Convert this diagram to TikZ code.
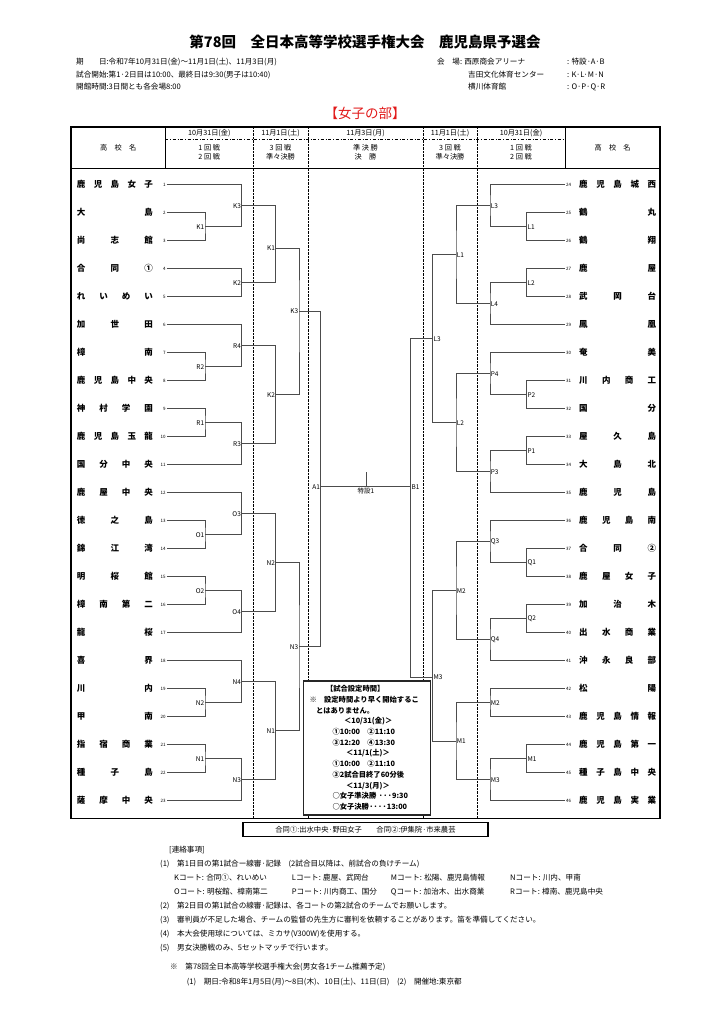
\documentclass[tikz,border=0pt]{standalone}
\usepackage{fontspec}
\setmainfont{Noto Sans CJK JP}
\usetikzlibrary{positioning}
\definecolor{partred}{RGB}{225,25,25}

\begin{document}
\begin{tikzpicture}[x=1pt, y=-1pt,
  ttl/.style={font=\bfseries\fontsize{14.5}{16}\selectfont, inner sep=0pt},
  info/.style={font=\fontsize{7.6}{8}\selectfont, anchor=west, inner sep=0pt},
  hdr/.style={font=\fontsize{7.2}{9.3}\selectfont, inner sep=0pt, align=center},
  tname/.style={font=\bfseries\fontsize{8.5}{9}\selectfont, anchor=west, inner sep=0pt},
  tnum/.style={font=\fontsize{4.5}{5}\selectfont, inner sep=0pt},
  lab/.style={font=\fontsize{6.5}{7}\selectfont, inner sep=0.6pt},
  brk/.style={draw=black!70, line width=0.85pt},
  note/.style={font=\fontsize{7.6}{8}\selectfont, anchor=west, inner sep=0pt}]

\useasboundingbox (0,0) rectangle (724,1024);

% title and info
\node (title) [ttl] at (365,42) {第78回　全日本高等学校選手権大会　鹿児島県予選会};
\node (inf1) [info] at (76,62) {期　　日:令和7年10月31日(金)～11月1日(土)、11月3日(月)};
\node (inf2) [info] at (76,75) {試合開始:第1·2日目は10:00、最終日は9:30(男子は10:40)};
\node (inf3) [info] at (76,87) {開館時間:3日間とも各会場8:00};
\node (ven1) [info] at (437,62) {会　場: 西原商会アリーナ};
\node (ven2) [info] at (468,75) {吉田文化体育センター};
\node (ven3) [info] at (468,87) {横川体育館};
\node (crt1) [info] at (567,62) {: 特設·A·B};
\node (crt2) [info] at (567,75) {: K·L·M·N};
\node (crt3) [info] at (567,87) {: O·P·Q·R};
\node (part) [font=\fontsize{13.5}{14}\selectfont, text=partred] at (365,113) {【女子の部】};

% table
\draw[line width=1.4pt] (71,127) rectangle (660,818.3);
\draw[thin] (71,168.3) -- (660,168.3);
\draw[thin] (165.3,127) -- (165.3,168.3);
\draw[thin] (565.3,127) -- (565.3,168.3);
\draw[thin, dash dot] (165.3,139.3) -- (565.3,139.3);
\foreach \xx in {253.3,307.7,423.3,476.7}
  \draw[thin, densely dotted] (\xx,127) -- (\xx,818.3);

\node (hn1) [hdr] at (118.2,147.5) {高　校　名};
\node (hn2) [hdr] at (612.6,147.5) {高　校　名};
\foreach \xx/\dt/\ra/\rb [count=\h] in {209.3/10月31日(金)/1 回 戦/2 回 戦,
    280.5/11月1日(土)/3 回 戦/準々決勝, 365.5/11月3日(月)/準 決 勝/決　勝,
    450/11月1日(土)/3 回 戦/準々決勝, 521/10月31日(金)/1 回 戦/2 回 戦}
{
  \node (hd\h) [hdr] at (\xx,133) {\dt};
  \node (hr\h) [hdr] at (\xx,152.4) {\ra\\\rb};
}

% teams
\foreach \nm [count=\i, evaluate=\i as \yy using 184.7+28*(\i-1)] in
  {鹿 児 島 女 子, 大 島, 尚 志 館, 合 同 ①, れ い め い, 加 世 田, 樟 南,
   鹿 児 島 中 央, 神 村 学 園, 鹿 児 島 玉 龍, 国 分 中 央, 鹿 屋 中 央, 徳 之 島,
   錦 江 湾, 明 桜 館, 樟 南 第 二, 龍 桜, 喜 界, 川 内, 甲 南, 指 宿 商 業,
   種 子 島, 薩 摩 中 央}
{
  \node (n\i) [tname] at (76.7,\yy) {\makebox[76pt][s]{\nm}};
  \node (k\i) [tnum, anchor=east] at (165.8,\yy) {\i};
  \coordinate (t\i) at (166.5,\yy);
}
\foreach \nm [count=\j from 24, evaluate=\j as \yy using 184.7+28*(\j-24)] in
  {鹿 児 島 城 西, 鶴 丸, 鶴 翔, 鹿 屋, 武 岡 台, 鳳 凰, 奄 美, 川 内 商 工, 国 分,
   屋 久 島, 大 島 北, 鹿 児 島, 鹿 児 島 南, 合 同 ②, 鹿 屋 女 子, 加 治 木,
   出 水 商 業, 沖 永 良 部, 松 陽, 鹿 児 島 情 報, 鹿 児 島 第 一, 種 子 島 中 央,
   鹿 児 島 実 業}
{
  \node (n\j) [tname] at (579,\yy) {\makebox[77pt][s]{\nm}};
  \node (k\j) [tnum, anchor=west] at (566,\yy) {\j};
  \coordinate (t\j) at (565,\yy);
}

% left bracket
\foreach \m/\xx/\yy/\pa/\pb/\lb in {
    a1/205/226.7/t2/t3/K1, a2/205/366.7/t7/t8/R2, a3/205/422.7/t9/t10/R1,
    a4/205/534.7/t13/t14/O1, a5/205/590.7/t15/t16/O2, a6/205/702.7/t19/t20/N2,
    a7/205/758.7/t21/t22/N1,
    b1/241.7/205.7/t1/a1/K3, b2/241.7/282.7/t4/t5/K2, b3/241.7/345.7/t6/a2/R4,
    b4/241.7/443.7/a3/t11/R3, b5/241.7/513.7/t12/a4/O3, b6/241.7/611.7/a5/t17/O4,
    b7/241.7/681.7/t18/a6/N4, b8/241.7/779.7/a7/t23/N3,
    c1/275.7/248/b1/b2/K1, c2/275.7/394.7/b3/b4/K2,
    c3/275.7/562.7/b5/b6/N2, c4/275.7/730.7/b7/b8/N1,
    d1/299/311/c1/c2/K3, d2/299/646.7/c3/c4/N3,
    e1/320.7/486.7/d1/d2/A1}
{
  \coordinate (\m) at (\xx,\yy);
  \draw[brk] (\pa) -| (\m) |- (\pb);
  \node (\m-l) [lab, anchor=east] at (\m) {\lb};
}

% right bracket
\foreach \m/\xx/\yy/\pa/\pb/\lb in {
    p1/526.7/226.7/t25/t26/L1, p2/526.7/282.7/t27/t28/L2, p3/526.7/394.7/t31/t32/P2,
    p4/526.7/450.7/t33/t34/P1, p5/526.7/562.7/t37/t38/Q1, p6/526.7/618.7/t39/t40/Q2,
    p7/526.7/758.7/t44/t45/M1,
    q1/490/205.7/t24/p1/L3, q2/490/303.7/p2/t29/L4, q3/490/373.7/t30/p3/P4,
    q4/490/471.7/p4/t35/P3, q5/490/541.7/t36/p5/Q3, q6/490/639.7/p6/t41/Q4,
    q7/490/702.7/t42/t43/M2, q8/490/779.7/p7/t46/M3,
    r1/456/254.7/q1/q2/L1, r2/456/422.7/q3/q4/L2,
    r3/456/590.7/q5/q6/M2, r4/456/741.2/q7/q8/M1,
    s1/432.7/338.7/r1/r2/L3, s2/432.7/677/r3/r4/M3,
    u1/410.7/486.7/s1/s2/B1}
{
  \coordinate (\m) at (\xx,\yy);
  \draw[brk] (\pa) -| (\m) |- (\pb);
  \node (\m-l) [lab, anchor=west] at (\m) {\lb};
}

% final
\coordinate (fin) at (366,486.7);
\coordinate (fint) at (366,472.3);
\draw[brk] (e1) -- (u1);
\draw[brk] (fin) -- (fint);
\node (fin-l) [lab, below=1pt of fin] {特設1};

% time box
\node (setbox) [draw=black!85, line width=1.6pt, fill=white, anchor=north west,
    text width=122pt, inner sep=2.5pt, minimum height=134pt, align=left,
    font=\bfseries\fontsize{7.3}{10.7}\selectfont] at (302.7,680)
  {\hspace*{20pt}【試合設定時間】\\
   \hspace*{3.5pt}※　設定時間より早く開始するこ\\
   \hspace*{10pt}とはありません。\\
   \hspace*{38pt}＜10/31(金)＞\\
   \hspace*{26.5pt}①10:00　②11:10\\
   \hspace*{26.5pt}③12:20　④13:30\\
   \hspace*{40pt}＜11/1(土)＞\\
   \hspace*{26.5pt}①10:00　②11:10\\
   \hspace*{26.5pt}③2試合目終了60分後\\
   \hspace*{40pt}＜11/3(月)＞\\
   \hspace*{26.5pt}○女子準決勝 ···9:30\\
   \hspace*{26.5pt}○女子決勝····13:00};

\node (godo) [draw, line width=1.2pt, minimum width=245pt, minimum height=14pt,
    font=\fontsize{7.3}{8}\selectfont] at (365.5,829.7)
  {合同①:出水中央·野田女子　　合同②:伊集院·市来農芸};

% notes
\node (nt0) [note] at (169,850) {[連絡事項]};
\node (nt1) [note] at (160,864) {(1)　第1日目の第1試合ー線審·記録　(2試合目以降は、前試合の負けチーム)};
\foreach \xx/\ca/\cb [count=\c] in {174/Kコート: 合同①、れいめい/Oコート: 明桜館、樟南第二,
    291.7/Lコート: 鹿屋、武岡台/Pコート: 川内商工、国分,
    390.7/Mコート: 松陽、鹿児島情報/Qコート: 加治木、出水商業,
    510/Nコート: 川内、甲南/Rコート: 樟南、鹿児島中央}
{
  \node (cta\c) [note] at (\xx,877.7) {\ca};
  \node (ctb\c) [note] at (\xx,892) {\cb};
}
\node (nt2) [note] at (160,906) {(2)　第2日目の第1試合の線審·記録は、各コートの第2試合のチームでお願いします。};
\node (nt3) [note] at (160,920) {(3)　審判員が不足した場合、チームの監督の先生方に審判を依頼することがあります。笛を準備してください。};
\node (nt4) [note] at (160,934) {(4)　本大会使用球については、ミカサ(V300W)を使用する。};
\node (nt5) [note] at (160,948) {(5)　男女決勝戦のみ、5セットマッチで行います。};
\node (nt6) [note] at (170,967) {※　第78回全日本高等学校選手権大会(男女各1チーム推薦予定)};
\node (nt7) [note] at (186.7,981.7) {(1)　期日:令和8年1月5日(月)～8日(木)、10日(土)、11日(日)　(2)　開催地:東京都};
\end{tikzpicture}
\end{document}
